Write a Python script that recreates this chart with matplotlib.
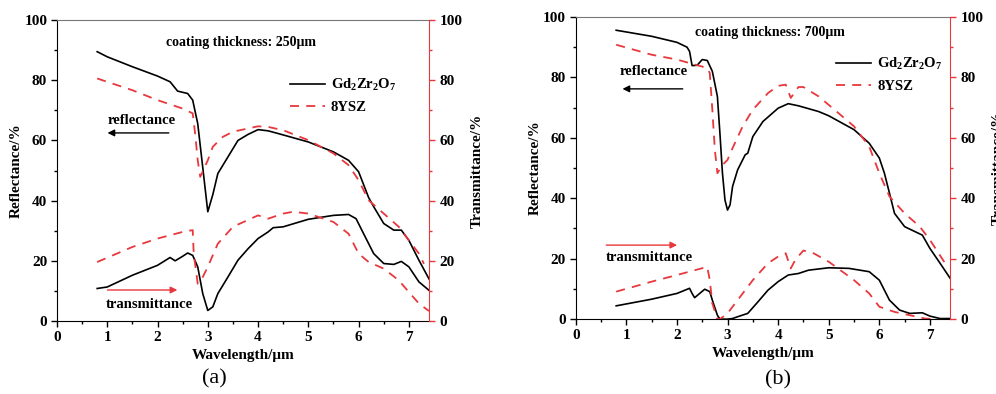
import numpy as np
import matplotlib.pyplot as plt
from matplotlib.ticker import MultipleLocator

plt.rcParams['font.family'] = 'Liberation Serif'
plt.rcParams['font.weight'] = 'bold'
plt.rcParams['mathtext.fontset'] = 'custom'
plt.rcParams['mathtext.rm'] = 'Liberation Serif:bold'
plt.rcParams['mathtext.bf'] = 'Liberation Serif:bold'
plt.rcParams['mathtext.it'] = 'Liberation Serif:bold'

## (a) coating thickness 250 um
a_gd_ref_x = [0.8, 1.0, 1.5, 2.0, 2.25, 2.4, 2.6, 2.7, 2.8, 2.9, 3.0, 3.1, 3.2, 3.4, 3.6, 3.8, 4.0, 4.2,
              4.4, 5.0, 5.5, 5.8, 6.0, 6.2, 6.3, 6.5, 6.7, 6.85, 7.0, 7.2, 7.4]
a_gd_ref_y = [89.5, 87.8, 84.5, 81.4, 79.5, 76.4, 75.6, 73.4, 65.6, 51.0, 36.3, 42.0, 49.0, 54.5, 60.0, 62.0,
              63.6, 63.2, 62.3, 59.5, 56.2, 53.4, 49.6, 41.0, 38.0, 32.4, 30.2, 30.2, 26.8, 20.2, 14.0]
a_ysz_ref_x = [0.8, 1.5, 2.0, 2.5, 2.7, 2.75, 2.8, 2.85, 3.0, 3.1, 3.3, 3.5, 4.0, 4.2, 4.5, 5.0, 5.5, 5.8,
               6.0, 6.2, 6.5, 6.8, 7.0, 7.2, 7.3]
a_ysz_ref_y = [80.6, 76.7, 73.4, 70.6, 69.0, 62.0, 53.4, 47.9, 53.4, 57.9, 61.2, 62.9, 64.7, 64.5, 63.4,
               60.1, 55.7, 51.8, 46.8, 40.1, 35.7, 31.3, 26.8, 22.4, 19.0]
a_gd_tra_x = [0.8, 1.0, 1.5, 2.0, 2.25, 2.35, 2.5, 2.6, 2.7, 2.8, 2.9, 3.0, 3.1, 3.2, 3.4, 3.6, 3.8, 4.0,
              4.2, 4.3, 4.5, 5.0, 5.5, 5.8, 5.95, 6.1, 6.3, 6.5, 6.7, 6.85, 7.0, 7.2, 7.4]
a_gd_tra_y = [10.8, 11.3, 15.2, 18.5, 21.1, 20.0, 21.5, 22.6, 21.8, 18.0, 9.1, 3.5, 4.7, 9.1, 14.6, 20.2,
              24.0, 27.4, 29.6, 31.0, 31.3, 33.8, 35.1, 35.4, 34.0, 29.0, 22.4, 19.1, 18.8, 19.8, 18.0,
              13.0, 10.2]
a_ysz_tra_x = [0.8, 1.5, 2.0, 2.5, 2.7, 2.72, 2.8, 2.9, 3.0, 3.2, 3.5, 4.0, 4.2, 4.5, 4.7, 5.0, 5.5, 5.8,
               6.0, 6.2, 6.5, 6.8, 7.0, 7.2, 7.4]
a_ysz_tra_y = [19.6, 24.6, 27.4, 29.6, 30.2, 22.4, 12.4, 14.6, 18.0, 25.7, 31.3, 35.1, 34.0, 35.7, 36.3,
               35.7, 32.9, 29.0, 22.4, 19.6, 17.4, 13.5, 9.6, 5.8, 3.3]

## (b) coating thickness 700 um
b_gd_ref_x = [0.8, 1.5, 2.0, 2.2, 2.25, 2.3, 2.4, 2.5, 2.6, 2.7, 2.8, 2.85, 2.9, 2.95, 3.0, 3.05, 3.1,
              3.2, 3.35, 3.4, 3.5, 3.7, 4.0, 4.2, 4.4, 4.8, 5.0, 5.5, 5.8, 6.0, 6.1, 6.2, 6.3, 6.5, 6.7,
              6.85, 7.0, 7.2, 7.4]
b_gd_ref_y = [95.6, 93.6, 91.6, 90.0, 88.6, 83.9, 84.0, 85.9, 85.6, 82.0, 73.7, 61.5, 48.3, 39.4, 36.1,
              37.8, 43.9, 49.4, 54.4, 54.9, 60.4, 65.4, 69.8, 71.3, 70.6, 68.7, 67.3, 62.7, 58.2, 53.3,
              48.3, 41.7, 35.0, 30.6, 29.0, 27.8, 23.4, 18.5, 13.5]
b_ysz_ref_x = [0.8, 1.5, 2.0, 2.6, 2.65, 2.7, 2.75, 2.8, 2.9, 3.0, 3.1, 3.3, 3.5, 3.8, 4.0, 4.15, 4.25,
               4.4, 4.5, 4.8, 5.0, 5.5, 5.8, 6.0, 6.2, 6.5, 6.8, 7.0, 7.3]
b_ysz_ref_y = [90.8, 87.5, 85.9, 83.1, 81.4, 69.3, 56.0, 48.3, 51.0, 52.7, 56.6, 63.8, 69.3, 74.8, 77.2,
               77.6, 73.2, 76.8, 76.8, 73.7, 70.9, 63.8, 57.1, 48.3, 40.6, 35.0, 30.6, 26.2, 18.5]
b_gd_tra_x = [0.8, 1.5, 2.0, 2.25, 2.3, 2.35, 2.45, 2.55, 2.65, 2.7, 2.8, 2.85, 3.0, 3.1, 3.2, 3.4, 3.6,
              3.8, 4.0, 4.2, 4.4, 4.6, 5.0, 5.4, 5.8, 6.0, 6.2, 6.4, 6.6, 6.85, 7.0, 7.2, 7.4]
b_gd_tra_y = [4.4, 6.6, 8.5, 10.2, 8.5, 7.1, 8.5, 9.9, 9.1, 6.3, 1.3, 0.0, 0.0, 0.2, 0.8, 1.9, 5.7, 9.6,
              12.4, 14.6, 15.1, 16.2, 17.0, 16.8, 15.7, 12.9, 6.3, 3.0, 1.9, 2.1, 1.0, 0.2, 0.2]
b_ysz_tra_x = [0.8, 1.5, 2.0, 2.6, 2.65, 2.7, 2.8, 2.85, 3.0, 3.2, 3.5, 3.8, 4.0, 4.15, 4.25, 4.35, 4.5,
               4.7, 5.0, 5.5, 5.8, 6.0, 6.3, 6.6, 6.9, 7.1]
b_ysz_tra_y = [9.1, 12.4, 14.6, 17.3, 12.9, 5.2, 0.0, 0.0, 1.9, 6.3, 12.9, 18.5, 20.7, 21.8, 16.8, 19.9,
               22.7, 21.8, 19.0, 12.9, 8.5, 4.1, 2.4, 1.3, 0.2, 0.0]


def draw_panel(ax, gd_ref, ysz_ref, gd_tra, ysz_tra, thick, txt):
    k1, = ax.plot(*gd_ref, color='black', lw=1.2)
    r1, = ax.plot(*ysz_ref, color='#e8383d', lw=1.3, ls=(0, (5, 4)))
    ax.plot(*gd_tra, color='black', lw=1.2)
    ax.plot(*ysz_tra, color='#e8383d', lw=1.3, ls=(0, (5, 4)))

    ax.set_xlim(0, 7.4)
    ax.set_ylim(0, 100)
    ax.xaxis.set_major_locator(MultipleLocator(1))
    ax.xaxis.set_minor_locator(MultipleLocator(0.5))
    ax.yaxis.set_major_locator(MultipleLocator(20))
    ax.yaxis.set_minor_locator(MultipleLocator(10))
    ax.tick_params(which='major', length=4, width=1, labelsize=11, pad=3)
    ax.tick_params(which='minor', length=2.5, width=1)
    ax.spines['right'].set_visible(False)
    ax.spines['top'].set_color('#777777')
    ax.set_xlabel('Wavelength/\u03bcm', fontsize=11, fontweight='bold', labelpad=4)
    ax.set_ylabel('Reflectance/%', fontsize=11, fontweight='bold', labelpad=1)

    # right axis only carries the transmittance scale
    ax2 = ax.twinx()
    ax2.set_ylim(0, 100)
    ax2.yaxis.set_major_locator(MultipleLocator(20))
    ax2.yaxis.set_minor_locator(MultipleLocator(10))
    ax2.tick_params(which='major', length=4, width=1, labelsize=11, colors='#e8383d', labelcolor='black')
    ax2.tick_params(which='minor', length=2.5, width=1, colors='#e8383d')
    for s in ['left', 'top', 'bottom']:
        ax2.spines[s].set_visible(False)
    ax2.spines['right'].set_color('#e8383d')
    ax2.set_ylabel('Transmittance/%', fontsize=11, fontweight='bold', labelpad=6)

    ax.text(txt['coat'][0], txt['coat'][1], f'coating thickness: {thick}\u03bcm', ha='center', va='center',
            fontsize=10, fontweight='bold')
    ax.text(*txt['ref'], 'reflectance', ha='left', va='center', fontsize=10.5, fontweight='bold')
    ax.annotate('', xy=(txt['ref_arr'][0], txt['ref_arr'][2]), xytext=(txt['ref_arr'][1], txt['ref_arr'][2]),
                arrowprops=dict(arrowstyle='-|>', color='black', lw=1, mutation_scale=10))
    ax.text(*txt['tra'], 'transmittance', ha='left', va='center', fontsize=10.5, fontweight='bold')
    ax.annotate('', xy=(txt['tra_arr'][1], txt['tra_arr'][2]), xytext=(txt['tra_arr'][0], txt['tra_arr'][2]),
                arrowprops=dict(arrowstyle='-|>', color='#e8383d', lw=1, mutation_scale=10))

    ax.legend([k1, r1], [r'$\mathbf{Gd_2Zr_2O_7}$', '8YSZ'], loc='upper left', bbox_to_anchor=txt['leg'],
              frameon=False, fontsize=10.5, handlelength=2.4, handletextpad=0.4, labelspacing=0.5,
              borderaxespad=0)


fig = plt.figure(figsize=(9.96, 3.94), dpi=100)
axa = fig.add_axes([0.0572, 0.1853, 0.3735, 0.7637])
axb = fig.add_axes([0.578, 0.190, 0.376, 0.767])

draw_panel(axa, (a_gd_ref_x, a_gd_ref_y), (a_ysz_ref_x, a_ysz_ref_y), (a_gd_tra_x, a_gd_tra_y),
           (a_ysz_tra_x, a_ysz_tra_y), 250,
           dict(coat=(3.66, 92.7), ref=(1.0, 66.5), ref_arr=(0.95, 2.28, 62.5), tra=(0.97, 5.6),
                tra_arr=(0.95, 2.45, 10.3), leg=(0.61, 0.83)))
draw_panel(axb, (b_gd_ref_x, b_gd_ref_y), (b_ysz_ref_x, b_ysz_ref_y), (b_gd_tra_x, b_gd_tra_y),
           (b_ysz_tra_x, b_ysz_tra_y), 700,
           dict(coat=(3.83, 94.7), ref=(0.87, 81.8), ref_arr=(0.87, 2.17, 76.2), tra=(0.6, 20.5),
                tra_arr=(0.55, 2.06, 24.5), leg=(0.68, 0.89)))

fig.text(0.215, 0.038, '(a)', ha='center', va='center', fontsize=16, fontweight='normal')
fig.text(0.781, 0.035, '(b)', ha='center', va='center', fontsize=16, fontweight='normal')

fig.savefig('out.png', dpi=100)
